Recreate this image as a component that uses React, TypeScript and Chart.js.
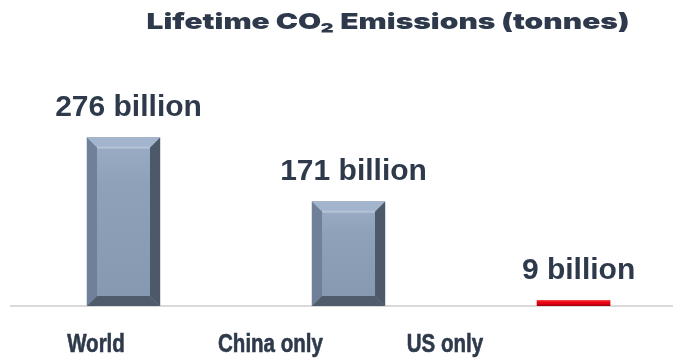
import React, { useEffect, useRef } from 'react';
import { Chart, registerables } from 'chart.js';

Chart.register(...registerables);

const TITLE = 'Lifetime CO₂ Emissions (tonnes)';
const categories = ['World', 'China only', 'US only'];
const emissionsBillion = [276, 171, 9];
const valueLabels = emissionsBillion.map((v) => `${v} billion`);

const TEXT = '#2e3a4c';
const FACE = ['#8b9eb6', '#8b9eb6', '#e50012'];

const bevelPlugin = {
  id: 'bevel',
  afterDatasetsDraw(chart: any) {
    const ctx = chart.ctx;
    const meta = chart.getDatasetMeta(0);
    meta.data.forEach((el: any) => {
      const { x, y, base, width } = el.getProps(['x', 'y', 'base', 'width'], true);
      const l = x - width / 2;
      const r = x + width / 2;
      const t = Math.min(y, base);
      const b = Math.max(y, base);
      const h = b - t;
      if (h < 20) {
        ctx.save();
        ctx.fillStyle = '#a8000c';
        ctx.fillRect(l, b - 1.5, width, 1.5);
        ctx.fillStyle = '#ff3b3b';
        ctx.fillRect(l, t, width, 1);
        ctx.restore();
        return;
      }
      const s = 10;
      const poly = (pts: number[][], color: string) => {
        ctx.beginPath();
        ctx.moveTo(pts[0][0], pts[0][1]);
        for (let i = 1; i < pts.length; i++) ctx.lineTo(pts[i][0], pts[i][1]);
        ctx.closePath();
        ctx.fillStyle = color;
        ctx.fill();
      };
      ctx.save();
      const g = ctx.createLinearGradient(0, t + s, 0, b - s);
      g.addColorStop(0, '#98abc3');
      g.addColorStop(0.25, '#8ea1b9');
      g.addColorStop(1, '#8699b1');
      ctx.fillStyle = g;
      ctx.fillRect(l + s, t + s, width - 2 * s, h - 2 * s);
      poly([[l, t], [r, t], [r - s, t + s], [l + s, t + s]], '#a3b5cc');
      poly([[l, t], [l + s, t + s], [l + s, b - s], [l, b]], '#6f8098');
      poly([[r, t], [r, b], [r - s, b - s], [r - s, t + s]], '#4d5868');
      poly([[l, b], [r, b], [r - s, b - s], [l + s, b - s]], '#505b6b');
      ctx.fillStyle = '#b4c3d6';
      ctx.fillRect(l + s, t + s - 1, width - 2 * s, 2);
      ctx.restore();
    });
  },
};

const labelPlugin = {
  id: 'valueLabels',
  afterDatasetsDraw(chart: any) {
    const ctx = chart.ctx;
    const meta = chart.getDatasetMeta(0);
    ctx.save();
    ctx.font = 'bold 30px "Liberation Sans", Arial, sans-serif';
    ctx.fillStyle = TEXT;
    ctx.textAlign = 'center';
    ctx.textBaseline = 'alphabetic';
    meta.data.forEach((el: any, i: number) => {
      ctx.fillText(valueLabels[i], el.x + 5, el.y - 22);
    });
    ctx.restore();
  },
};

const categoryLabelPlugin = {
  id: 'categoryLabels',
  afterDraw(chart: any) {
    const ctx = chart.ctx;
    const sc = chart.scales.x2;
    ctx.save();
    ctx.font = 'bold 25px "Liberation Sans", Arial, sans-serif';
    ctx.fillStyle = TEXT;
    ctx.strokeStyle = TEXT;
    ctx.lineWidth = 0.6;
    ctx.textAlign = 'center';
    ctx.textBaseline = 'alphabetic';
    categories.forEach((c, i) => {
      const px = sc.getPixelForValue(i);
      ctx.save();
      ctx.translate(px, chart.chartArea.bottom + 46);
      ctx.scale(0.82, 1);
      ctx.fillText(c, 0, 0);
      ctx.strokeText(c, 0, 0);
      ctx.restore();
    });
    ctx.restore();
  },
};

const titlePlugin = {
  id: 'customTitle',
  afterDraw(chart: any) {
    const ctx = chart.ctx;
    ctx.save();
    ctx.font = '900 22px Inter, "DejaVu Sans", sans-serif';
    ctx.fillStyle = TEXT;
    ctx.textAlign = 'center';
    ctx.textBaseline = 'alphabetic';
    const w = ctx.measureText(TITLE).width;
    ctx.translate(388, 29);
    ctx.scale(483 / w, 1);
    ctx.fillText(TITLE, 0, 0);
    ctx.restore();
  },
};

export default function App() {
  const ref = useRef<HTMLCanvasElement>(null);
  useEffect(() => {
    if (!ref.current) return;
    const chart = new Chart(ref.current, {
      type: 'bar',
      data: {
        datasets: [
          {
            data: emissionsBillion.map((v, i) => ({ x: i, y: v })),
            backgroundColor: FACE,
            borderWidth: 0,
            barThickness: 73,
          },
        ],
      },
      options: {
        animation: false,
        responsive: false,
        devicePixelRatio: 1,
        layout: { padding: { top: 62, left: 11, right: 0, bottom: 52 } },
        plugins: { legend: { display: false }, tooltip: { enabled: false }, title: { display: false } },
        scales: {
          x: {
            type: 'linear',
            position: 'bottom',
            offset: false,
            min: -0.5,
            max: 2.442,
            ticks: { display: false },
            grid: { display: false, drawTicks: false, offset: false },
            border: { display: true, color: '#d9d9d9', width: 2 },
            afterFit: (s: any) => {
              s.height = 0;
              s.paddingLeft = 0;
              s.paddingRight = 0;
            },
          },
          x2: {
            type: 'linear',
            position: 'bottom',
            display: false,
            offset: false,
            min: -0.487,
            max: 3.307,
          },
          y: { display: false, min: 0, max: 400 },
        },
      },
      plugins: [bevelPlugin, labelPlugin, categoryLabelPlugin, titlePlugin],
    } as any);
    return () => chart.destroy();
  }, []);
  return (
    <div style={{ position: 'fixed', left: 0, top: 0, width: 673, height: 358, overflow: 'hidden', background: '#fff' }}>
      <canvas ref={ref} width={673} height={358} style={{ display: 'block' }} />
    </div>
  );
}
